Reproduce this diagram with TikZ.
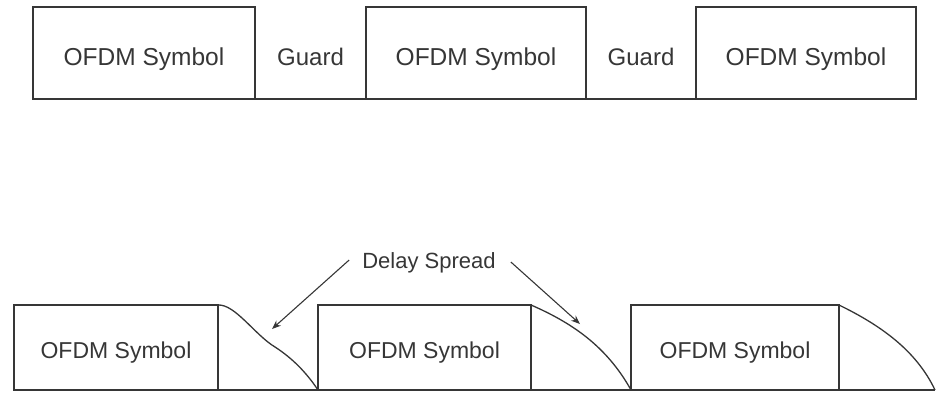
\documentclass[tikz,border=0pt]{standalone}
\usepackage{fontspec}
\setmainfont{Liberation Sans}
\usetikzlibrary{arrows.meta,calc}
\definecolor{ink}{HTML}{363636}
\begin{document}
\begin{tikzpicture}[x=1pt,y=-1pt,
  frame/.style={draw=ink,line width=1.3pt,inner sep=0pt,outer sep=0pt,anchor=north west,text=ink,text depth=0pt},
  upper/.style={font=\fontsize{24.5}{27}\selectfont,text height=25pt},
  lower/.style={font=\fontsize{23}{26}\selectfont,text height=21pt},
  lbl/.style={inner sep=0pt,text=ink,text depth=0pt},
  rule/.style={draw=ink,line width=1.3pt},
  pointer/.style={draw=ink,line width=1.1pt,-{Stealth[length=9pt,width=7pt]}}]
\useasboundingbox (0,0) rectangle (936,392);

% upper frame: symbols separated by guard intervals
\node[frame,upper,minimum width=222pt,minimum height=92pt] (s1) at (33,7) {OFDM Symbol};
\node[frame,upper,minimum width=220pt,minimum height=92pt] (s2) at (366,7) {OFDM Symbol};
\node[frame,upper,minimum width=220pt,minimum height=92pt] (s3) at (696,7) {OFDM Symbol};
\node[lbl,font=\fontsize{24}{27}\selectfont,text height=25pt] (g1) at ($(s1.east)!0.5!(s2.west)$) {Guard};
\node[lbl,font=\fontsize{24}{27}\selectfont,text height=25pt] (g2) at ($(s2.east)!0.5!(s3.west)$) {Guard};
\draw[rule] (s1.south east) -- (s2.south west);
\draw[rule] (s2.south east) -- (s3.south west);

% lower frame: symbols with their delay-spread tails
\node[frame,lower,minimum width=204pt,minimum height=85pt] (b1) at (14,305) {OFDM Symbol};
\node[frame,lower,minimum width=213pt,minimum height=85pt] (b2) at (318,305) {OFDM Symbol};
\node[frame,lower,minimum width=208pt,minimum height=85pt] (b3) at (631,305) {OFDM Symbol};
\coordinate (tailend) at (935,390);
\draw[rule] (b1.south east) -- (b2.south west);
\draw[rule] (b2.south east) -- (b3.south west);
\draw[rule] (b3.south east) -- (tailend);

\draw[rule] (b1.north east) .. controls (235,304) and (255,335) .. (275,347)
   .. controls (292,358) and (306,372) .. (b2.south west);
\draw[rule] (b2.north east) .. controls (570,322) and (606,345) .. (b3.south west);
\draw[rule] (b3.north east) .. controls (880,325) and (916,350) .. (tailend);

% delay-spread annotation
\node[lbl,font=\fontsize{22}{25}\selectfont] (ds) at (429,261) {Delay Spread};
\coordinate (tail1) at ($(ds.west)+(-13,-1)$);
\coordinate (tail2) at ($(ds.east)+(15,1)$);
\coordinate (tip1) at (272,329);
\coordinate (tip2) at (580,324);
\draw[pointer] (tail1) -- (tip1);
\draw[pointer] (tail2) -- (tip2);
\end{tikzpicture}
\end{document}
